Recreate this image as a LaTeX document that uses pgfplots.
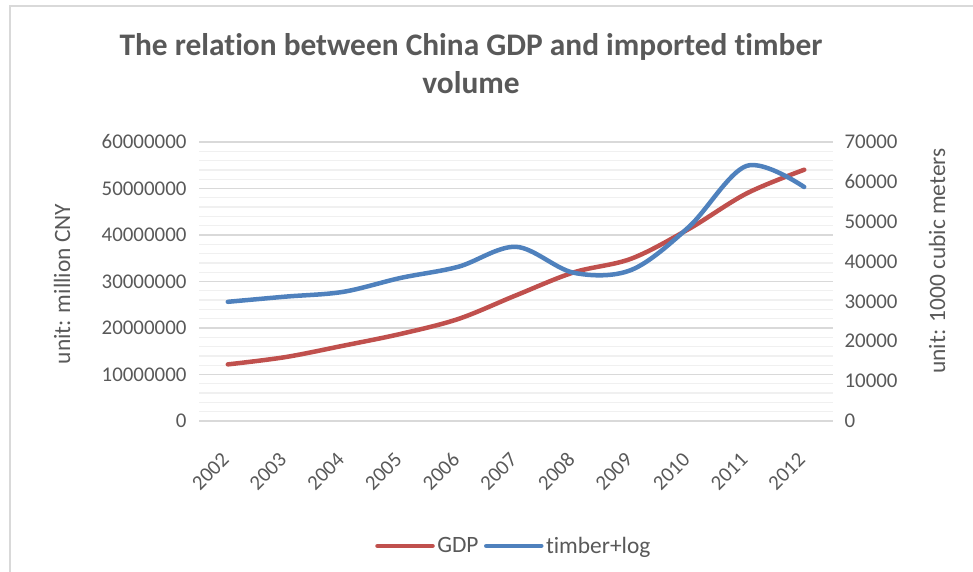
\documentclass[border=0pt]{standalone}
\usepackage{pgfplots}
\pgfplotsset{compat=1.18}
\usepackage{fontspec}
\setmainfont{Carlito}[Ligatures=NoCommon]
\definecolor{txt}{HTML}{595959}
\definecolor{gdp}{HTML}{C0504D}
\definecolor{tim}{HTML}{4F81BD}
\definecolor{maj}{HTML}{D9D9D9}
\definecolor{mnr}{HTML}{F0F0F0}
\pgfplotstableread{
x gdp timber
0 12171700 29900
1 13742000 31200
2 16184000 32400
3 18731800 35900
4 21943800 38700
5 27023100 43700
6 31951600 37200
7 34908100 37900
8 41303000 48700
9 48930100 64000
10 54036700 58700
}\data
\begin{document}
\begin{tikzpicture}[x=1bp,y=1bp]
\useasboundingbox (0,0) rectangle (973,572);
\draw[color=maj, line width=1.2bp] (10,-10) -- (10,566) -- (990,566);
\node[font=\fontsize{31.5}{38}\selectfont\bfseries, text=txt, align=center] at (471,508) {The relation between China GDP and imported timber\\volume};
\node[font=\fontsize{23.5}{28}\selectfont, text=txt, rotate=90] at (62,288) {unit: million CNY};
\node[font=\fontsize{23.5}{28}\selectfont, text=txt, rotate=90] at (937,311) {unit: 1000 cubic meters};
\begin{axis}[
  at={(199bp,151bp)}, anchor=south west, scale only axis,
  width=634bp, height=279bp,
  xmin=-0.5, xmax=10.5, ymin=0, ymax=60000000,
  xtick={0,...,10},
  xticklabels={2002,2003,2004,2005,2006,2007,2008,2009,2010,2011,2012},
  ytick={0,10000000,...,60000000},
  minor y tick num=4,
  ymajorgrids, yminorgrids,
  major grid style={maj, line width=1.3bp},
  minor grid style={mnr, line width=1.3bp},
  axis line style={draw=none},
  major tick length=0pt, minor tick length=0pt,
  scaled y ticks=false,
  /pgf/number format/.cd, fixed, precision=0, 1000 sep={}, assume math mode=true,
  /pgfplots/.cd,
  tick label style={font=\fontsize{21}{24}\selectfont, text=txt},
  yticklabel style={xshift=-9bp},
  xticklabel style={xshift=0bp, yshift=-33bp, rotate=45, anchor=east},
]
\addplot[gdp, line width=4.5bp, line cap=round, smooth, tension=0.55] table[x=x,y=gdp]{\data};
\end{axis}
\begin{axis}[
  at={(199bp,151bp)}, anchor=south west, scale only axis,
  width=634bp, height=279bp,
  xmin=-0.5, xmax=10.5, ymin=0, ymax=70000,
  xtick=\empty,
  ytick={0,10000,...,70000},
  yticklabel pos=right,
  axis line style={draw=none},
  major tick length=0pt,
  scaled y ticks=false,
  /pgf/number format/.cd, fixed, precision=0, 1000 sep={}, assume math mode=true,
  /pgfplots/.cd,
  tick label style={font=\fontsize{21}{24}\selectfont, text=txt},
  yticklabel style={xshift=8bp},
  legend style={draw=none, at={(0.497,-0.448)}, anchor=center, font=\fontsize{23.5}{27}\selectfont, text=txt, legend columns=2, /tikz/every even column/.append style={column sep=3bp}, nodes={inner sep=2.5bp}},
  legend image code/.code={\draw[#1, line width=4.5bp, line cap=round] (2bp,0bp) -- (57bp,0bp);},
]
\addlegendimage{gdp}
\addlegendentry{GDP}
\addplot[tim, line width=4.5bp, line cap=round, smooth, tension=0.55] table[x=x,y=timber]{\data};
\addlegendentry{timber+log}
\end{axis}
\end{tikzpicture}
\end{document}
